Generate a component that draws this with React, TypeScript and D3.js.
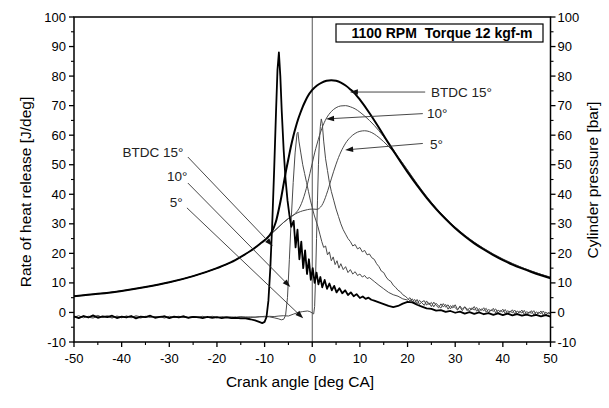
import React from 'react';
import * as d3 from 'd3';

// ---------- axis ticks ----------
const xTicks = [-50, -40, -30, -20, -10, 0, 10, 20, 30, 40, 50];
const xMinor = [-45, -35, -25, -15, -5, 5, 15, 25, 35, 45];
const yTicks = [-10, 0, 10, 20, 30, 40, 50, 60, 70, 80, 90, 100];
const yMinor = [-5, 5, 15, 25, 35, 45, 55, 65, 75, 85, 95];

const titleText = '1100 RPM\u00A0\u00A0Torque 12 kgf-m';
const xTitle = 'Crank angle [deg CA]';
const yLeftTitle = 'Rate of heat release [J/deg]';
const yRightTitle = 'Cylinder pressure [bar]';

// ---------- cylinder pressure [bar] ----------
const motoring: [number, number][] = [
  [-50, 5.5], [-45, 6.3], [-40, 7.3], [-35, 8.6], [-30, 10.2], [-25, 12.3], [-20, 15], [-17, 17],
  [-15, 18.8], [-13, 20.8], [-11, 23.2], [-9, 26], [-8, 27.5], [-7, 29], [-6, 30.5], [-5, 31.8],
  [-4, 32.9], [-3, 33.8], [-2, 34.4], [-1, 34.8], [0, 35], [1, 34.9],
];
const press15: [number, number][] = [
  [-8.5, 27.2], [-8, 29], [-7.5, 31.5], [-7, 35], [-6.5, 39], [-6, 43.5], [-5.5, 48], [-5, 52],
  [-4.5, 56], [-4, 59.5], [-3.5, 62.5], [-3, 65.2], [-2.5, 67.5], [-2, 69.6], [-1.5, 71.4], [-1, 73],
  [0, 75.3], [1, 76.8], [2, 77.8], [3, 78.4], [4, 78.6], [5, 78.4], [6, 77.8], [7, 76.8], [8, 75.5],
  [9, 74], [10, 72], [12, 67.5], [14, 62.5], [16, 57.3], [18, 52.3], [20, 47.5], [22, 43], [24, 38.8],
  [26, 35], [28, 31.6], [30, 28.5], [32, 25.8], [34, 23.4], [36, 21.3], [38, 19.4], [40, 17.7],
  [42, 16.2], [44, 14.9], [46, 13.7], [48, 12.6], [50, 11.6],
];
const press10: [number, number][] = [
  [-3.5, 33.6], [-3, 34.6], [-2.5, 36], [-2, 38], [-1.5, 40.5], [-1, 43.5], [-0.5, 47], [0, 50.5],
  [0.5, 54], [1, 57], [1.5, 59.8], [2, 62.2], [2.5, 64.2], [3, 65.8], [4, 68], [5, 69.3], [6, 69.9],
  [7, 70], [8, 69.6], [9, 68.9], [10, 67.8], [12, 65], [14, 61.5], [16, 57.3], [18, 52.8], [20, 48.1],
  [22, 43.4], [24, 39.1], [26, 35.3], [28, 31.9], [30, 28.8], [32, 26.1], [34, 23.7], [36, 21.6],
  [38, 19.7], [40, 18], [42, 16.5], [44, 15.2], [46, 14], [48, 12.9], [50, 11.9],
];
const press5: [number, number][] = [
  [1.5, 35.3], [2, 36.2], [2.5, 37.8], [3, 40], [3.5, 42.5], [4, 45.2], [4.5, 47.8], [5, 50.2],
  [5.5, 52.4], [6, 54.3], [6.5, 55.9], [7, 57.3], [8, 59.3], [9, 60.6], [10, 61.3], [11, 61.5],
  [12, 61.2], [13, 60.4], [14, 59.2], [16, 56.2], [18, 52.6], [20, 48.2], [22, 43.6], [24, 39.3],
  [26, 35.4], [28, 32], [30, 28.9], [32, 26.2], [34, 23.8], [36, 21.7], [38, 19.8], [40, 18.1],
  [42, 16.6], [44, 15.2], [46, 14], [48, 12.9], [50, 11.9],
];

// ---------- rate of heat release [J/deg] ----------
const hrr15: [number, number][] = [
  [-50, -1.3], [-49, -1.9], [-48, -1.2], [-47, -1.7], [-46, -1.0], [-45, -1.8], [-44, -1.3], [-43, -1.6],
  [-42, -1.1], [-41, -1.9], [-40, -1.4], [-39, -1.7], [-38, -1.2], [-37, -2.0], [-36, -1.4], [-35, -1.6],
  [-34, -1.1], [-33, -1.8], [-32, -1.5], [-31, -1.3], [-30, -1.9], [-29, -1.4], [-28, -1.7], [-27, -1.3],
  [-26, -1.8], [-25, -1.5], [-24, -1.6], [-23, -1.9], [-22, -1.5], [-21, -1.8], [-20, -1.6], [-19, -1.9],
  [-18, -1.7], [-17, -1.9], [-16, -1.8], [-15, -2.0], [-14, -2.0], [-13, -2.3], [-12, -2.7], [-11, -3.3],
  [-10.5, -3.6], [-10, -3.2], [-9.6, -1.5], [-9.2, 4], [-8.8, 15], [-8.4, 30], [-8, 48], [-7.6, 68],
  [-7.3, 82], [-7, 88], [-6.7, 80], [-6.4, 68], [-6, 55], [-5.6, 45], [-5.2, 38], [-4.8, 33],
  [-4.4, 29], [-3.9, 31], [-3.5, 22], [-3.1, 28], [-2.7, 18], [-2.3, 24], [-1.9, 15], [-1.5, 21],
  [-1.1, 13], [-0.7, 18], [-0.3, 11], [0.1, 15], [0.5, 10], [0.9, 13.5], [1.3, 9.5], [1.7, 12],
  [2.1, 8.5], [2.6, 11], [3.1, 8], [3.6, 9.8], [4.1, 7.5], [4.6, 9], [5.1, 6.8], [5.7, 8.2], [6.3, 6.5],
  [6.9, 7.5], [7.5, 5.9], [8.1, 6.8], [8.7, 5.5], [9.3, 6.2], [10, 4.9], [10.6, 5.4], [11.2, 4.6],
  [11.8, 5], [12.4, 4.3], [13, 4], [14, 3.4], [15, 2.8], [16, 2.2],
  [17, 1.8], [18, 2.2], [19, 3], [20, 3.6], [21, 3.4], [22, 2.6], [23, 2], [24, 1.4], [25, 1.2], [26, 0.6],
  [27, 0.8], [28, 0.2], [29, 0.5], [30, -0.1], [31, 0.3], [32, -0.4], [33, 0.1], [34, -0.5], [35, 0],
  [36, -0.6], [37, -0.2], [38, -0.8], [39, -0.3], [40, -0.9], [41, -0.4], [42, -1], [43, -0.6], [44, -1.1],
  [45, -0.7], [46, -1.2], [47, -0.8], [48, -1.3], [49, -0.9], [50, -1.4],
];
const hrr10: [number, number][] = [
  [-50, -1.6], [-49, -1.1], [-48, -1.8], [-47, -1.3], [-46, -1.5], [-45, -1.0], [-44, -1.7], [-43, -1.4],
  [-42, -1.9], [-41, -1.2], [-40, -1.6], [-39, -1.3], [-38, -1.8], [-37, -1.1], [-36, -1.5], [-35, -1.7],
  [-34, -1.2], [-33, -1.6], [-32, -1.4], [-31, -1.9], [-30, -1.3], [-29, -1.7], [-28, -1.5], [-27, -1.2],
  [-26, -1.8], [-25, -1.4], [-24, -1.6], [-23, -1.3], [-22, -1.7], [-21, -1.5], [-20, -1.8], [-19, -1.4],
  [-18, -1.6], [-17, -1.5], [-16, -1.7], [-15, -1.6], [-14, -1.5], [-13, -1.7], [-12, -1.6], [-11, -1.5],
  [-10, -1.3], [-9, -1.5], [-8, -1.8], [-7, -2.2], [-6.5, -2.5], [-6, -2.3], [-5.6, -1], [-5.2, 5],
  [-4.8, 18], [-4.4, 32], [-4, 44], [-3.6, 54], [-3.2, 60.5], [-3, 61], [-2.8, 58], [-2.4, 54], [-2, 50],
  [-1.6, 47], [-1.2, 44], [-0.8, 41], [-0.4, 38], [0, 35.5], [0.4, 33], [0.8, 31], [1.2, 29], [1.6, 26.5],
  [2, 24], [2.4, 22], [2.8, 22.5], [3.2, 19.5], [3.6, 20.5], [4, 17.5], [4.4, 18.8], [4.8, 16.2],
  [5.2, 17.5], [5.6, 15], [6, 16.5], [6.5, 14.5], [7, 15.5], [7.5, 13.5], [8, 14.5], [8.5, 13], [9, 13.8],
  [9.5, 12.5], [10, 13], [10.5, 12], [11, 12.5], [11.5, 11.5], [12, 11.8], [13, 10.5], [14, 9.2],
  [15, 8.0], [16, 6.8], [17, 6], [18, 5.5], [19, 4.6],
  [20, 4.2], [20.5, 5.0], [21, 3.6], [21.5, 4.4], [22, 2.9], [22.5, 4.1], [23, 3.3], [23.5, 2.4], [24, 3.9],
  [24.5, 2.6], [25, 3.4], [25.5, 1.9], [26, 3.1], [26.5, 2.2], [27, 1.5], [27.5, 3.0], [28, 1.8], [28.5, 2.6],
  [29, 1.2], [29.5, 2.4], [30, 1.6], [30.5, 0.8], [31, 2.2], [31.5, 1.1], [32, 1.9], [32.5, 0.6], [33, 1.5],
  [33.5, 0.9], [34, 2.0], [34.5, 0.4], [35, 1.3], [35.5, 0.7], [36, 1.6], [36.5, 0.1], [37, 1.0], [37.5, 0.5],
  [38, 1.4], [38.5, -0.2], [39, 0.8], [39.5, 0.2], [40, 1.1], [40.5, -0.4], [41, 0.6], [41.5, 0.0], [42, 0.9],
  [42.5, -0.6], [43, 0.5], [43.5, -0.1], [44, 0.8], [44.5, -0.7], [45, 0.3], [45.5, -0.3], [46, 0.6],
  [46.5, -0.9], [47, 0.2], [47.5, -0.4], [48, 0.5], [48.5, -1.0], [49, 0.1], [49.5, -0.5], [50, -0.2],
];
const hrr5: [number, number][] = [
  [-50, -1.4], [-49, -1.8], [-48, -1.2], [-47, -1.6], [-46, -1.9], [-45, -1.3], [-44, -1.5], [-43, -1.1],
  [-42, -1.7], [-41, -1.4], [-40, -1.8], [-39, -1.2], [-38, -1.6], [-37, -1.5], [-36, -1.9], [-35, -1.3],
  [-34, -1.7], [-33, -1.4], [-32, -1.6], [-31, -1.2], [-30, -1.8], [-29, -1.5], [-28, -1.3], [-27, -1.7],
  [-26, -1.6], [-25, -1.4], [-24, -1.8], [-23, -1.5], [-22, -1.7], [-21, -1.3], [-20, -1.6], [-19, -1.8],
  [-18, -1.5], [-17, -1.7], [-16, -1.6], [-15, -1.4], [-14, -1.7], [-13, -1.5], [-12, -1.6], [-11, -1.4],
  [-10, -1.5], [-9, -1.3], [-8, -1.4], [-7, -1.2], [-6, -1.1], [-5, -1.2], [-4, -0.6], [-3, 0], [-2, 0.3],
  [-1, 0.5], [-0.5, 0.3], [0, -0.2], [0.3, -0.5], [0.5, 2], [0.7, 12], [0.9, 25], [1.1, 38], [1.3, 50],
  [1.5, 58], [1.7, 63], [1.9, 65.5], [2.1, 64], [2.4, 58], [2.8, 52], [3.2, 48], [3.6, 44], [4, 41],
  [4.5, 38], [5, 35], [5.5, 32.5], [6, 30], [6.5, 28], [7, 26.5], [7.5, 25], [8, 24], [8.5, 22.5], [9, 23],
  [9.5, 21.5], [10, 22], [10.5, 20.5], [11, 21], [11.5, 19.5], [12, 19.8], [12.5, 18.5], [13, 18],
  [13.5, 16.5], [14, 15.5], [14.5, 14], [15, 13.5], [15.5, 12], [16, 11], [16.5, 10.5], [17, 9.2],
  [17.5, 8.5], [18, 7.5], [18.5, 7], [19, 6], [19.5, 5.5],
  [20, 4.8], [20.5, 3.9], [21, 4.6], [21.5, 3.2], [22, 4.4], [22.5, 2.7], [23, 3.6], [23.5, 4.0], [24, 2.5],
  [24.5, 3.3], [25, 2.0], [25.5, 3.5], [26, 2.4], [26.5, 1.6], [27, 2.9], [27.5, 1.9], [28, 2.7], [28.5, 1.1],
  [29, 2.3], [29.5, 1.5], [30, 2.6], [30.5, 1.0], [31, 1.8], [31.5, 0.6], [32, 1.9], [32.5, 1.2], [33, 0.5],
  [33.5, 1.6], [34, 0.8], [34.5, 1.7], [35, 0.3], [35.5, 1.2], [36, 0.6], [36.5, 1.4], [37, -0.1], [37.5, 0.9],
  [38, 0.4], [38.5, 1.2], [39, -0.3], [39.5, 0.7], [40, 0.1], [40.5, 1.0], [41, -0.5], [41.5, 0.5], [42, -0.1],
  [42.5, 0.8], [43, -0.6], [43.5, 0.4], [44, -0.2], [44.5, 0.7], [45, -0.8], [45.5, 0.2], [46, -0.3],
  [46.5, 0.6], [47, -0.9], [47.5, 0.1], [48, -0.4], [48.5, 0.5], [49, -1.0], [49.5, 0.0], [50, -0.3],
];

// ---------- annotations (data units) ----------
type Note = { label: string; tx: number; ty: number; x1: number; y1: number; x2: number; y2: number };
const notes: Note[] = [
  { label: 'BTDC 15°', tx: 24.9, ty: 74.6, x1: 23.7, y1: 74.6, x2: 7.9, y2: 74.6 },
  { label: '10°', tx: 24.1, ty: 67.3, x1: 23.2, y1: 67.3, x2: 2.9, y2: 65.5 },
  { label: '5°', tx: 24.7, ty: 57.0, x1: 23.2, y1: 57.2, x2: 6.9, y2: 55.0 },
  { label: 'BTDC 15°', tx: -39.8, ty: 54.2, x1: -26.1, y1: 52.6, x2: -8.3, y2: 22.5 },
  { label: '10°', tx: -30.5, ty: 46.0, x1: -26.1, y1: 43.8, x2: -4.6, y2: 8.6 },
  { label: '5°', tx: -29.9, ty: 37.4, x1: -26.3, y1: 35.4, x2: -1.9, y2: -2.0 },
];

const W = 609;
const H = 408;
const FONT = "'Liberation Sans', Arial, Helvetica, sans-serif";

export default function App() {
  const x = d3.scaleLinear().domain([-50, 50]).range([74, 550.5]);
  const y = d3.scaleLinear().domain([-10, 100]).range([342, 17]);
  const [x0, x1] = x.range();
  const [y0, y1] = y.range();

  const smooth = d3.line<[number, number]>().x(d => x(d[0])).y(d => y(d[1])).curve(d3.curveMonotoneX);
  const jag = d3.line<[number, number]>().x(d => x(d[0])).y(d => y(d[1]));

  const p15 = [...motoring.filter(d => d[0] <= -9), ...press15];
  const p10 = [...motoring.filter(d => d[0] <= -4), ...press10];
  const p5 = [...motoring.filter(d => d[0] <= 1), ...press5];

  const thin = '#4a4a4a';

  const arrow = (n: Note, i: number) => {
    const ax = x(n.x1), ay = y(n.y1), bx = x(n.x2), by = y(n.y2);
    const ang = Math.atan2(by - ay, bx - ax);
    const L = 8, Wd = 2.8;
    const p1 = [bx - L * Math.cos(ang) + Wd * Math.sin(ang), by - L * Math.sin(ang) - Wd * Math.cos(ang)];
    const p2 = [bx - L * Math.cos(ang) - Wd * Math.sin(ang), by - L * Math.sin(ang) + Wd * Math.cos(ang)];
    return (
      <g key={'a' + i}>
        <line x1={ax} y1={ay} x2={bx - 4 * Math.cos(ang)} y2={by - 4 * Math.sin(ang)} stroke="#333" strokeWidth={0.9} />
        <polygon points={`${bx},${by} ${p1[0]},${p1[1]} ${p2[0]},${p2[1]}`} fill="#111" />
        <text x={x(n.tx)} y={y(n.ty)} dy="0.35em" fontSize={13.5} fill="#222">{n.label}</text>
      </g>
    );
  };

  return (
    <svg width={W} height={H} style={{ position: 'absolute', left: 0, top: 0, background: '#fff' }} fontFamily={FONT}>
      <rect x={0} y={0} width={W} height={H} fill="#fff" />
      {/* zero line */}
      <line x1={x(0)} x2={x(0)} y1={y1} y2={y0} stroke="#555" strokeWidth={1} />

      {/* thin curves */}
      <path d={smooth(p10) || ''} fill="none" stroke={thin} strokeWidth={1} />
      <path d={smooth(p5) || ''} fill="none" stroke={thin} strokeWidth={1} />
      <path d={jag(hrr10) || ''} fill="none" stroke={thin} strokeWidth={1} />
      <path d={jag(hrr5) || ''} fill="none" stroke={thin} strokeWidth={1} />
      {/* thick curves */}
      <path d={smooth(p15) || ''} fill="none" stroke="#000" strokeWidth={2} />
      <path d={jag(hrr15) || ''} fill="none" stroke="#000" strokeWidth={1.8} strokeLinejoin="round" />

      {/* frame */}
      <rect x={x0} y={y1} width={x1 - x0} height={y0 - y1} fill="none" stroke="#000" strokeWidth={1.5} />

      {/* bottom axis */}
      {xTicks.map(t => (
        <g key={'xt' + t}>
          <line x1={x(t)} x2={x(t)} y1={y0} y2={y0 + 5} stroke="#000" strokeWidth={1.3} />
          <text x={x(t)} y={y0 + 21} textAnchor="middle" fontSize={13}>{t}</text>
        </g>
      ))}
      {xMinor.map(t => (
        <line key={'xm' + t} x1={x(t)} x2={x(t)} y1={y0} y2={y0 + 3} stroke="#000" strokeWidth={1.1} />
      ))}
      {/* left axis */}
      {yTicks.map(t => (
        <g key={'yl' + t}>
          <line x1={x0 - 5} x2={x0} y1={y(t)} y2={y(t)} stroke="#000" strokeWidth={1.3} />
          <text x={x0 - 8} y={y(t)} dy="0.35em" textAnchor="end" fontSize={13}>{t}</text>
        </g>
      ))}
      {yMinor.map(t => (
        <line key={'ylm' + t} x1={x0 - 3} x2={x0} y1={y(t)} y2={y(t)} stroke="#000" strokeWidth={1.1} />
      ))}
      {/* right axis */}
      {yTicks.map(t => (
        <g key={'yr' + t}>
          <line x1={x1} x2={x1 + 5} y1={y(t)} y2={y(t)} stroke="#000" strokeWidth={1.3} />
          <text x={x1 + 7} y={y(t)} dy="0.35em" textAnchor="start" fontSize={13}>{t}</text>
        </g>
      ))}
      {yMinor.map(t => (
        <line key={'yrm' + t} x1={x1} x2={x1 + 3} y1={y(t)} y2={y(t)} stroke="#000" strokeWidth={1.1} />
      ))}

      {/* axis titles */}
      <text x={300} y={387} textAnchor="middle" fontSize={15.5}>{xTitle}</text>
      <text transform={`translate(31,${192}) rotate(-90)`} textAnchor="middle" fontSize={15.5}>{yLeftTitle}</text>
      <text transform={`translate(598,${180}) rotate(-90)`} textAnchor="middle" fontSize={15.5}>{yRightTitle}</text>

      {/* title box */}
      <rect x={336} y={24} width={207} height={18} fill="#fff" stroke="#000" strokeWidth={1.2} />
      <text x={442} y={33} dy="0.36em" textAnchor="middle" fontSize={14} fontWeight="bold">{titleText}</text>

      {/* annotations */}
      {notes.map(arrow)}
    </svg>
  );
}
